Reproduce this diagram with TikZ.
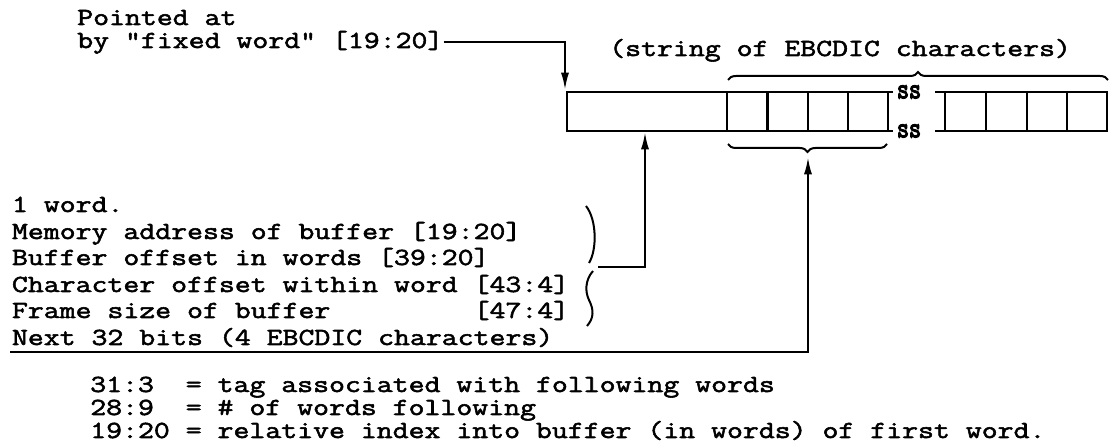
\documentclass[tikz,border=0pt]{standalone}
\usepackage{fontspec}
\newfontfamily\tw{Latin Modern Mono}[FakeStretch=1.26,FakeBold=2.2]
\newfontfamily\twb{Latin Modern Mono}[FakeStretch=0.8,FakeBold=4]
\usetikzlibrary{arrows.meta,decorations.pathreplacing}
\begin{document}
\begin{tikzpicture}[x=0.75pt,y=-0.75pt,
  txt/.style={inner sep=0pt, anchor=base west, font=\tw\fontsize{18.4pt}{22pt}\selectfont},
  sslab/.style={inner sep=0pt, font=\twb\fontsize{22pt}{26pt}\selectfont},
  ln/.style={line width=1.6pt},
  arr/.style={line width=1.6pt, -{Latex[length=13pt,width=6pt]}},
  brc/.style={line width=1.5pt, decorate, decoration={brace, amplitude=6pt}}]
\useasboundingbox (0,0) rectangle (1111,448);
% top labels
\node[txt] (pa) at (77,25) {Pointed at};
\node[txt] (fw) at (77,48) {by "fixed word" [19:20]};
\node[txt] (sec) at (609,56) {(string of EBCDIC characters)};
% buffer, first segment
\draw[ln] (567,92) rectangle (888,131);
\foreach \x in {727,767.5,808,848} \draw[ln] (\x,92) -- (\x,131);
\draw[ln] (888,92) -- (893,92) (888,131) -- (893,131);
\node[sslab] (ss1) at (909,92) {ss};
\node[sslab] (ss2) at (909,131) {ss};
% second segment
\draw[ln] (935,92) -- (1107,92) -- (1107,131) -- (935,131);
\foreach \x in {945,986,1027,1067} \draw[ln] (\x,92) -- (\x,131);
% braces
\draw[brc] (728,80) -- (1108,80);
\draw[brc] (887,144) -- (728,144);
% left block
\node[txt] (w1) at (11.7,212) {1 word.};
\node[txt] (ma) at (11.7,239) {Memory address of buffer [19:20]};
\node[txt] (bo) at (11.7,265) {Buffer offset in words [39:20]};
\node[txt] (co) at (11.7,292) {Character offset within word [43:4]};
\node[txt] (fs) at (11.7,318) {Frame size of buffer\phantom{xxxxxxxxx}[47:4]};
\node[txt] (nx) at (11.7,345) {Next 32 bits (4 EBCDIC characters)};
% left brace (two typed parentheses)
\draw[line width=1.5pt] (586,206) .. controls (597,220) and (597,250) .. (589,263);
\draw[line width=1.5pt] (593,271) .. controls (585,280) and (585,292) .. (589,300) .. controls (594,310) and (594,318) .. (587,326);
% bottom block
\node[txt] (l1) at (90,392) {31:3\ \ = tag associated with following words};
\node[txt] (l2) at (90,415) {28:9\ \ = \# of words following};
\node[txt] (l3) at (90,438) {19:20 = relative index into buffer (in words) of first word.};
% connectors
\coordinate (t1) at (565,90);
\coordinate (t2) at (645,132);
\coordinate (bk) at (598,267);
\coordinate (t3) at (808,157);
\coordinate (ul) at (10,352);
\draw[arr] (fw.east) -| (t1);
\draw[arr] (bk) -| (t2);
\draw[arr] (ul) -| (t3);
\end{tikzpicture}
\end{document}
